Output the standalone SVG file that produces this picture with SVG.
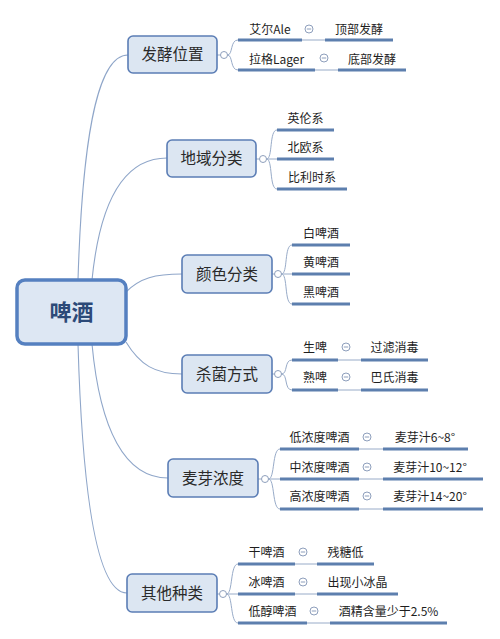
<svg xmlns="http://www.w3.org/2000/svg" width="500" height="639" viewBox="0 0 500 639">
<style>
.bg{fill:#ffffff}
.con{fill:none;stroke:#8fa6c9;stroke-width:1.1}
.thin{fill:none;stroke:#98abc8;stroke-width:1}
.ul{fill:none;stroke:#5d7fae;stroke-width:3}
.l1 rect{fill:#dce6f2;stroke:#5b7db5;stroke-width:1.6}
.l1 text{font-family:"Noto Sans CJK SC","Noto Sans",sans-serif;font-size:15.5px;fill:#2a2a2a;text-anchor:middle}
.root rect{fill:#dde7f3;stroke:#5580c0;stroke-width:3.5}
.root text{font-family:"Noto Sans CJK SC","Noto Sans",sans-serif;font-size:22px;font-weight:bold;fill:#2c4a78;text-anchor:middle}
.t{font-family:"Noto Sans CJK SC","Noto Sans",sans-serif;font-size:12px;fill:#1e1e1e;text-anchor:middle}
.knob{fill:#ffffff;stroke:#8e9fbc;stroke-width:1}
.minus{stroke:#8e9fbc;stroke-width:1}
</style>
<rect class="bg" x="0" y="0" width="500" height="639"/>
<g id="connectors">
<path class="con" d="M78,280 C82,150 95,55 128,55"/>
<path class="con" d="M92,280 C100,200 125,158 167,158"/>
<path class="con" d="M126,292 C140,278 155,274 182,274"/>
<path class="con" d="M126,342 C140,365 155,374 182,374"/>
<path class="con" d="M92,344 C100,430 125,478 168,478"/>
<path class="con" d="M78,344 C82,480 95,593 127,593"/>
<!-- 发酵位置 branches -->
<path class="thin" d="M217,55 H220.5 M227.5,55 C233,55 230,40 238,40 M227.5,55 C233,55 230,70 238,70"/>
<!-- 地域分类 -->
<path class="thin" d="M256,159 H259.5 M266.5,159 C273,159 269,130 277,130 M266.5,159 H277 M266.5,159 C273,159 269,189 277,189"/>
<!-- 颜色分类 -->
<path class="thin" d="M272,274 H274.5 M281.5,274 C288,274 284,245 292,245 M281.5,274 H292 M281.5,274 C288,274 284,304 292,304"/>
<!-- 杀菌方式 -->
<path class="thin" d="M272,374 H274.5 M281.5,374 C288,374 284,360 292,360 M281.5,374 C288,374 284,390 292,390"/>
<!-- 麦芽浓度 -->
<path class="thin" d="M258,479 H261.5 M268.5,479 C275,479 272,449 280,449 M268.5,479 H280 M268.5,479 C275,479 272,509 280,509"/>
<!-- 其他种类 -->
<path class="thin" d="M217,594 H219.5 M226.5,594 C233,594 230,564 238,564 M226.5,594 H238 M226.5,594 C233,594 230,623 238,623"/>
<!-- pair links -->
<path class="thin" d="M302,40 H325 M315,70 H338 M338,360 H361 M338,390 H361 M359,449 H383 M359,479 H383 M359,509 H383 M295,564 H317 M295,594 H317 M307,623 H330"/>
</g>
<g id="root" class="root">
<rect x="17" y="280" width="109" height="64" rx="8"/>
<text x="71.5" y="320">啤酒</text>
</g>
<g id="n1" class="l1">
<rect x="128" y="36" width="89" height="37" rx="5"/>
<text x="172.5" y="60">发酵位置</text>
<circle class="knob" cx="224" cy="55" r="3.5"/>
</g>
<g id="n2" class="l1">
<rect x="167" y="140" width="89" height="37" rx="5"/>
<text x="211.5" y="164">地域分类</text>
<circle class="knob" cx="263" cy="159" r="3.5"/>
</g>
<g id="n3" class="l1">
<rect x="182" y="255" width="90" height="38" rx="5"/>
<text x="227" y="279.5">颜色分类</text>
<circle class="knob" cx="278" cy="274" r="3.5"/>
</g>
<g id="n4" class="l1">
<rect x="182" y="355" width="90" height="38" rx="5"/>
<text x="227" y="379.5">杀菌方式</text>
<circle class="knob" cx="278" cy="374" r="3.5"/>
</g>
<g id="n5" class="l1">
<rect x="168" y="459" width="90" height="38" rx="5"/>
<text x="213" y="483.5">麦芽浓度</text>
<circle class="knob" cx="265" cy="479" r="3.5"/>
</g>
<g id="n6" class="l1">
<rect x="127" y="574" width="90" height="38" rx="5"/>
<text x="172" y="598.5">其他种类</text>
<circle class="knob" cx="223" cy="594" r="3.5"/>
</g>
<!-- leaf items -->
<g id="c-ale"><path class="ul" d="M238,40 H302"/><text class="t" x="270" y="34">艾尔Ale</text></g>
<g id="m-ale"><circle class="knob" cx="309" cy="29" r="4"/><path class="minus" d="M306.8,29 H311.2"/></g>
<g id="c-top"><path class="ul" d="M325,40 H393"/><text class="t" x="359" y="34">顶部发酵</text></g>
<g id="c-lager"><path class="ul" d="M238,70 H315"/><text class="t" x="276.5" y="64">拉格Lager</text></g>
<g id="m-lager"><circle class="knob" cx="324" cy="58" r="4"/><path class="minus" d="M321.8,58 H326.2"/></g>
<g id="c-bottom"><path class="ul" d="M338,70 H406"/><text class="t" x="372" y="64">底部发酵</text></g>

<g id="c-uk"><path class="ul" d="M277,130 H334"/><text class="t" x="305.5" y="123">英伦系</text></g>
<g id="c-nordic"><path class="ul" d="M277,159 H334"/><text class="t" x="305.5" y="152">北欧系</text></g>
<g id="c-belgium"><path class="ul" d="M277,189 H347"/><text class="t" x="312" y="182">比利时系</text></g>

<g id="c-white"><path class="ul" d="M292,245 H350"/><text class="t" x="321" y="238">白啤酒</text></g>
<g id="c-yellow"><path class="ul" d="M292,274 H350"/><text class="t" x="321" y="267">黄啤酒</text></g>
<g id="c-black"><path class="ul" d="M292,304 H350"/><text class="t" x="321" y="297">黑啤酒</text></g>

<g id="c-raw"><path class="ul" d="M292,360 H338"/><text class="t" x="315" y="352">生啤</text></g>
<g id="m-raw"><circle class="knob" cx="346" cy="347" r="4"/><path class="minus" d="M343.8,347 H348.2"/></g>
<g id="c-filter"><path class="ul" d="M361,360 H428"/><text class="t" x="394.5" y="352">过滤消毒</text></g>
<g id="c-cooked"><path class="ul" d="M292,390 H338"/><text class="t" x="315" y="382">熟啤</text></g>
<g id="m-cooked"><circle class="knob" cx="346" cy="377" r="4"/><path class="minus" d="M343.8,377 H348.2"/></g>
<g id="c-pasteur"><path class="ul" d="M361,390 H428"/><text class="t" x="394.5" y="382">巴氏消毒</text></g>

<g id="c-low"><path class="ul" d="M280,449 H359"/><text class="t" x="319.5" y="442">低浓度啤酒</text></g>
<g id="m-low"><circle class="knob" cx="367" cy="437" r="4"/><path class="minus" d="M364.8,437 H369.2"/></g>
<g id="c-low2"><path class="ul" d="M383,449 H468"/><text class="t" x="425" y="442">麦芽汁6~8°</text></g>
<g id="c-mid"><path class="ul" d="M280,479 H359"/><text class="t" x="319.5" y="472">中浓度啤酒</text></g>
<g id="m-mid"><circle class="knob" cx="367" cy="467" r="4"/><path class="minus" d="M364.8,467 H369.2"/></g>
<g id="c-mid2"><path class="ul" d="M383,479 H483"/><text class="t" x="430" y="472">麦芽汁10~12°</text></g>
<g id="c-high"><path class="ul" d="M280,509 H359"/><text class="t" x="319.5" y="501">高浓度啤酒</text></g>
<g id="m-high"><circle class="knob" cx="367" cy="496" r="4"/><path class="minus" d="M364.8,496 H369.2"/></g>
<g id="c-high2"><path class="ul" d="M383,509 H483"/><text class="t" x="430" y="501">麦芽汁14~20°</text></g>

<g id="c-dry"><path class="ul" d="M238,564 H295"/><text class="t" x="266.5" y="557">干啤酒</text></g>
<g id="m-dry"><circle class="knob" cx="303" cy="552" r="4"/><path class="minus" d="M300.8,552 H305.2"/></g>
<g id="c-dry2"><path class="ul" d="M317,564 H374"/><text class="t" x="345.5" y="557">残糖低</text></g>
<g id="c-ice"><path class="ul" d="M238,594 H295"/><text class="t" x="266.5" y="587">冰啤酒</text></g>
<g id="m-ice"><circle class="knob" cx="303" cy="582" r="4"/><path class="minus" d="M300.8,582 H305.2"/></g>
<g id="c-ice2"><path class="ul" d="M317,594 H398"/><text class="t" x="357.5" y="587">出现小冰晶</text></g>
<g id="c-lowalc"><path class="ul" d="M238,623 H307"/><text class="t" x="272.5" y="616">低醇啤酒</text></g>
<g id="m-lowalc"><circle class="knob" cx="314" cy="611" r="4"/><path class="minus" d="M311.8,611 H316.2"/></g>
<g id="c-lowalc2"><path class="ul" d="M330,623 H447"/><text class="t" x="388.5" y="616">酒精含量少于2.5%</text></g>
</svg>
